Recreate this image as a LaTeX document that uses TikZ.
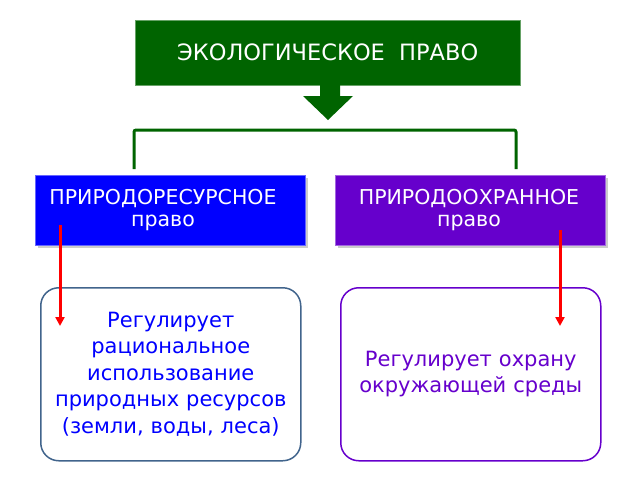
\documentclass[tikz,border=0pt]{standalone}
\usepackage{fontspec}
\setmainfont{DejaVu Sans}
\usetikzlibrary{shadows,arrows.meta}
\definecolor{dg}{HTML}{006400}
\definecolor{bl}{HTML}{0000FF}
\definecolor{pu}{HTML}{6600CC}
\definecolor{bd}{HTML}{41648C}
\begin{document}
\begin{tikzpicture}[x=1pt,y=-1pt,
 hdr/.style={draw=#1!60!white,fill=#1,text=white,minimum height=70pt,minimum width=270pt,anchor=north west,drop shadow={shadow xshift=3pt,shadow yshift=-3pt,opacity=.4}},
 htxt/.style={font=\fontsize{20.5}{22}\selectfont,text=white,align=center,inner sep=0pt},
 info/.style={draw=#1,line width=1.5pt,rounded corners=18pt,minimum width=260pt,minimum height=173pt,text width=235pt,align=center,font=\fontsize{21}{26.5}\selectfont,anchor=north west},
 redarr/.style={red,line width=3pt,-{Triangle[length=9pt,width=9pt]}}]
\useasboundingbox (0,0) rectangle (640,480);
\node[draw=dg!60!white,fill=dg,text=white,minimum width=385pt,minimum height=65pt,font=\fontsize{22.5}{24}\selectfont,anchor=north west] (top) at (135,20) {ЭКОЛОГИЧЕСКОЕ\ \ ПРАВО};
\fill[dg] (320,85) -- (340,85) -- (340,96) -- (353,96) -- (328,120) -- (303,96) -- (320,96) -- cycle;
\coordinate (cl) at (134,169); \coordinate (cr) at (516,169);
\draw[dg,line width=3pt,rounded corners=2pt] (cl) -- (134,130) -- (516,130) -- (cr);
\node[hdr=bl] (L) at (35,175) {};
\node[htxt] at (163,210) {ПРИРОДОРЕСУРСНОЕ\\право};
\node[hdr=pu] (R) at (335,175) {};
\node[htxt] at (469,210) {ПРИРОДООХРАННОЕ\\право};
\node[info=bd,text=bl] (LI) at (40,287) {Регулирует рациональное использование природных ресурсов (земли, воды, леса)};
\node[info=pu,text=pu] (RI) at (340,287) {Регулирует охрану окружающей среды};
\coordinate (la) at (60,225); \coordinate (lb) at (60,326);
\coordinate (ra) at (560,230); \coordinate (rb) at (560,326);
\draw[redarr] (la) -- (lb);
\draw[redarr] (ra) -- (rb);
\end{tikzpicture}
\end{document}
